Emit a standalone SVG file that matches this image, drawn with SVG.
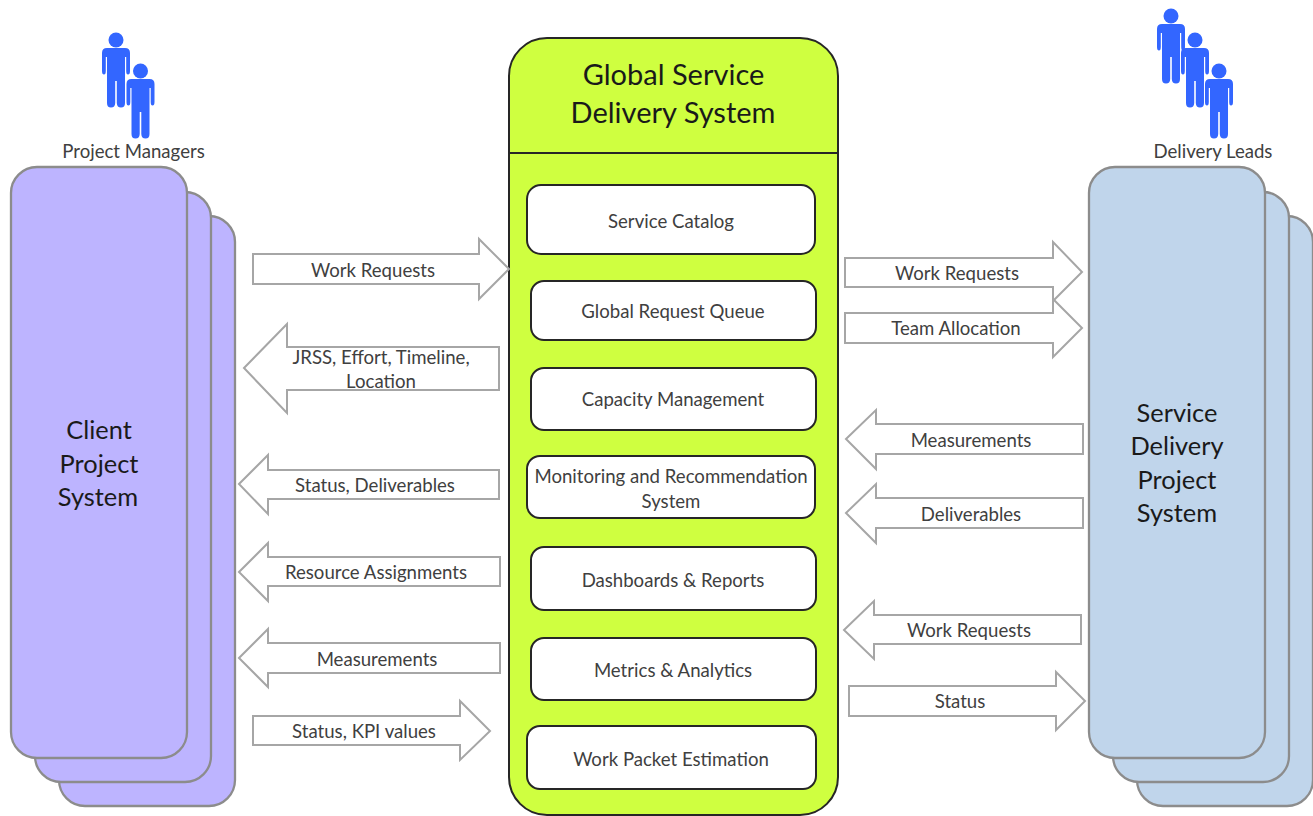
<svg xmlns="http://www.w3.org/2000/svg" width="1313" height="816" viewBox="0 0 1313 816">
<style>
text{font-family:"Lato","Open Sans","Liberation Sans",sans-serif;text-anchor:middle;fill:#404040;font-size:18.6px}
.big{font-size:29px;fill:#1a1a1a}
.sys{font-size:25.4px;fill:#1a1a1a}
.stack{stroke:#8c8c8c;stroke-width:2.3}
.purple{fill:#bdb4ff}
.blue{fill:#c0d5eb}
.inner{fill:#fff;stroke:#262626;stroke-width:2}
.arrow{fill:#fff;stroke:#a6a6a6;stroke-width:2}
.person{fill:#3366ff}
</style>
<defs>
<g id="person">
<circle cx="0" cy="0" r="7.500"/>
<path d="M-9 8H9Q14 8 14 13V31Q14 34.500 12 34.500Q10.200 34.500 10.200 31V17H9V63Q9 67.500 5 67.500Q1 67.500 .8 63V41H-.8V63Q-1 67.500 -5 67.500Q-9 67.500 -9 63V17H-10.200V31Q-10.200 34.500 -12 34.500Q-14 34.500 -14 31V13Q-14 8 -9 8Z"/>
</g>
</defs>
<g id="project-managers">
<use href="#person" class="person" x="116" y="40"/>
<use href="#person" class="person" x="140.500" y="71"/>
<text x="133.500" y="157.500">Project Managers</text>
</g>
<g id="delivery-leads">
<use href="#person" class="person" x="1171" y="16"/>
<use href="#person" class="person" x="1195" y="40"/>
<use href="#person" class="person" x="1219" y="71"/>
<text x="1213" y="157.500">Delivery Leads</text>
</g>
<g id="client-project-system">
<rect class="stack purple" x="59" y="216" width="176" height="590" rx="26"/>
<rect class="stack purple" x="35" y="192" width="176" height="590" rx="26"/>
<rect class="stack purple" x="11" y="167" width="176" height="591" rx="26"/>
<text class="sys" x="99" y="439">Client</text>
<text class="sys" x="99" y="473">Project</text>
<text class="sys" x="98" y="506">System</text>
</g>
<g id="service-delivery-project-system">
<rect class="stack blue" x="1137" y="216" width="176" height="590" rx="26"/>
<rect class="stack blue" x="1113" y="192" width="176" height="590" rx="26"/>
<rect class="stack blue" x="1089" y="167" width="176" height="591" rx="26"/>
<text class="sys" x="1177" y="422">Service</text>
<text class="sys" x="1177" y="455">Delivery</text>
<text class="sys" x="1177" y="489">Project</text>
<text class="sys" x="1177" y="522">System</text>
</g>
<g id="global-service-delivery-system">
<rect x="509" y="38" width="329" height="777" rx="38" fill="#cfff40" stroke="#262626" stroke-width="2"/>
<path d="M509 153H838" stroke="#262626" stroke-width="2" fill="none"/>
<text class="big" x="673.500" y="85">Global Service</text>
<text class="big" x="673" y="123">Delivery System</text>
</g>
<g id="service-catalog"><rect class="inner" x="527" y="185" width="288" height="69" rx="14"/><text x="671" y="227.500">Service Catalog</text></g>
<g id="global-request-queue"><rect class="inner" x="531" y="281" width="285" height="59" rx="13"/><text x="673" y="317.500">Global Request Queue</text></g>
<g id="capacity-management"><rect class="inner" x="531" y="368" width="285" height="62" rx="13"/><text x="673" y="406">Capacity Management</text></g>
<g id="monitoring"><rect class="inner" x="527" y="456" width="288" height="62" rx="13"/><text x="671" y="482.500">Monitoring and Recommendation</text><text x="671" y="507.500">System</text></g>
<g id="dashboards"><rect class="inner" x="531" y="547" width="285" height="63" rx="13"/><text x="673" y="586.500">Dashboards &amp; Reports</text></g>
<g id="metrics"><rect class="inner" x="531" y="638" width="285" height="62" rx="13"/><text x="673" y="676.500">Metrics &amp; Analytics</text></g>
<g id="work-packet"><rect class="inner" x="527" y="726" width="289" height="63" rx="13"/><text x="671" y="765.500">Work Packet Estimation</text></g>
<g id="connectors">
<polygon class="arrow" points="253,254 479,254 479,239 509,269 479,299 479,284 253,284"/>
<text x="373" y="276.500">Work Requests</text>
<polygon class="arrow" points="244,368 287,324 287,347 499,347 499,390 287,390 287,413"/>
<text x="381" y="363.500">JRSS, Effort, Timeline,</text>
<text x="381" y="387.500">Location</text>
<polygon class="arrow" points="239,484 268,455 268,470 499,470 499,499 268,499 268,514"/>
<text x="375" y="491.500">Status, Deliverables</text>
<polygon class="arrow" points="239,572 268,543 268,557 500,557 500,586 268,586 268,601"/>
<text x="376" y="579">Resource Assignments</text>
<polygon class="arrow" points="239,658 268,629 268,643 500,643 500,673 268,673 268,687"/>
<text x="377" y="665.500">Measurements</text>
<polygon class="arrow" points="253,716 460,716 460,701 490,731 460,760 460,745 253,745"/>
<text x="364" y="737.500">Status, KPI values</text>
<polygon class="arrow" points="845,258 1053,258 1053,242 1082,272 1053,301 1053,287 845,287"/>
<text x="957" y="279.500">Work Requests</text>
<polygon class="arrow" points="845,313 1053,313 1053,299 1082,328 1053,357 1053,343 845,343"/>
<text x="956" y="334.500">Team Allocation</text>
<polygon class="arrow" points="846,439 876,410 876,424 1083,424 1083,454 876,454 876,469"/>
<text x="971" y="446.500">Measurements</text>
<polygon class="arrow" points="846,513 876,484 876,498 1083,498 1083,528 876,528 876,543"/>
<text x="971" y="520.500">Deliverables</text>
<polygon class="arrow" points="844,630 874,601 874,615 1081,615 1081,644 874,644 874,659"/>
<text x="969" y="636.500">Work Requests</text>
<polygon class="arrow" points="849,686 1056,686 1056,672 1085,701 1056,730 1056,716 849,716"/>
<text x="960" y="707.500">Status</text>
</g>
</svg>
